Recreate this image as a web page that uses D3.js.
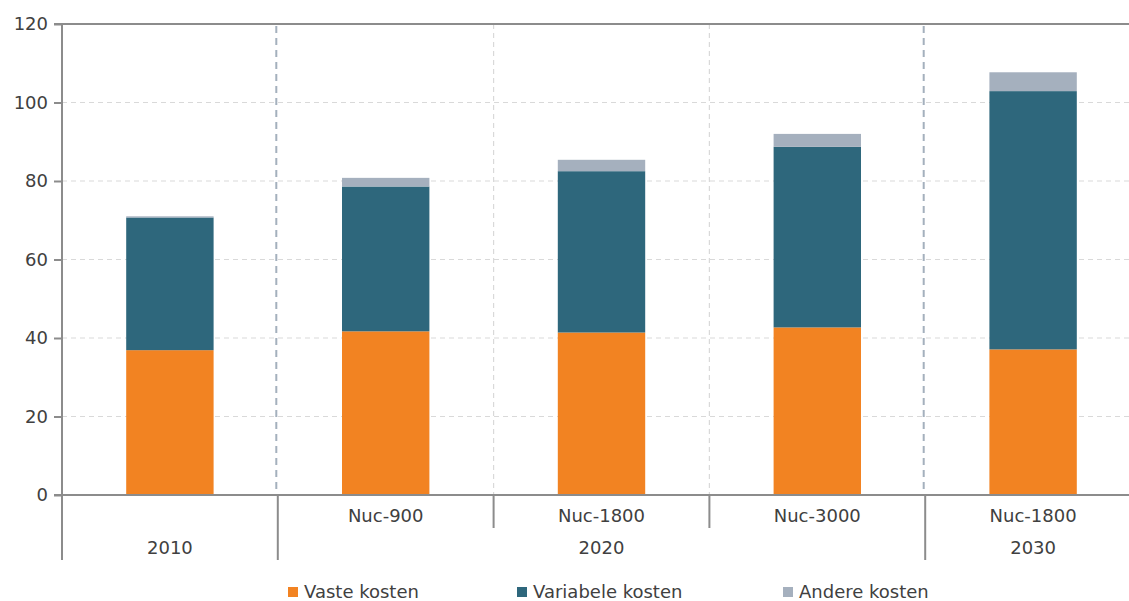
<!DOCTYPE html>
<html><head><meta charset="utf-8">
<script src="https://cdn.jsdelivr.net/npm/d3@7"></script>
<style>
html,body{margin:0;padding:0;background:#fff;}
svg{display:block;font-family:"DejaVu Sans",sans-serif;}
</style></head>
<body>
<svg id="chart" width="1129" height="601"></svg>
<script>
const categories = ["Nuc-2010", "Nuc-900", "Nuc-1800", "Nuc-3000", "Nuc-1800b"];
const subLabels = ["", "Nuc-900", "Nuc-1800", "Nuc-3000", "Nuc-1800"];
const groups = [
  {label: "2010", from: 0, to: 0},
  {label: "2020", from: 1, to: 3},
  {label: "2030", from: 4, to: 4}
];
const seriesNames = ["Vaste kosten", "Variabele kosten", "Andere kosten"];
const vaste = [36.9, 41.7, 41.4, 42.7, 37.1];
const variabele = [33.8, 36.9, 41.1, 46.0, 65.8];
const andere = [0.3, 2.2, 2.9, 3.3, 4.8];
const colors = ["#F28322", "#2E677C", "#A5B0BE"];
const yTicks = [0, 20, 40, 60, 80, 100, 120];

(function () {
const svg = d3.select("#chart");
const pLeft = 62, pRight = 1141, pTop = 24, pBottom = 495;

const x = d3.scaleBand().domain(categories).range([pLeft, pRight]).paddingInner(0).paddingOuter(0);
const y = d3.scaleLinear().domain([0, 120]).range([pBottom, pTop]);
const barW = x.bandwidth() * 0.405;

// horizontal gridlines
svg.append("g").selectAll("line").data(yTicks.filter(t => t > 0 && t < 120)).join("line")
  .attr("x1", pLeft).attr("x2", pRight).attr("y1", d => y(d)).attr("y2", d => y(d))
  .attr("stroke", "#d9d9d9").attr("stroke-width", 1.2).attr("stroke-dasharray", "5,4");

const innerBounds = [];
const sepBounds = [];
groups.forEach((g, gi) => {
  for (let i = g.from + 1; i <= g.to; i++) innerBounds.push(categories[i]);
  if (gi > 0) sepBounds.push(categories[g.from]);
});
svg.append("g").selectAll("line").data(innerBounds).join("line")
  .attr("x1", d => x(d)).attr("x2", d => x(d)).attr("y1", pTop).attr("y2", pBottom)
  .attr("stroke", "#d9d9d9").attr("stroke-width", 1.2).attr("stroke-dasharray", "5,4");

svg.append("g").selectAll("line").data(sepBounds).join("line")
  .attr("x1", d => x(d) - 1.5).attr("x2", d => x(d) - 1.5).attr("y1", pTop + 2).attr("y2", pBottom)
  .attr("stroke", "#a4b0bd").attr("stroke-width", 2).attr("stroke-dasharray", "7,5");

// stacked bars
const rows = categories.map((c, i) => ({cat: c, "Vaste kosten": vaste[i], "Variabele kosten": variabele[i], "Andere kosten": andere[i]}));
const stack = d3.stack().keys(seriesNames)(rows);
svg.append("g").selectAll("g").data(stack).join("g")
  .attr("fill", (d, i) => colors[i])
  .selectAll("rect").data(d => d).join("rect")
  .attr("x", d => x(d.data.cat) + (x.bandwidth() - barW) / 2)
  .attr("width", barW)
  .attr("y", d => y(d[1]))
  .attr("height", d => y(d[0]) - y(d[1]));

// y axis
const yAxis = d3.axisLeft(y).tickValues(yTicks).tickSize(8).tickPadding(6).tickFormat(d3.format("d"));
const ya = svg.append("g").attr("transform", `translate(${pLeft},0)`).call(yAxis);
ya.select(".domain").remove();
ya.selectAll("line").attr("stroke", "#8c8c8c").attr("stroke-width", 2);
ya.selectAll("text").attr("fill", "#404040").attr("font-size", 18).attr("font-family", "DejaVu Sans");
svg.append("line").attr("x1", pLeft).attr("x2", pLeft).attr("y1", pTop - 1).attr("y2", 560)
  .attr("stroke", "#8c8c8c").attr("stroke-width", 2);

svg.append("line").attr("x1", pLeft - 8).attr("x2", 1129).attr("y1", pTop).attr("y2", pTop)
  .attr("stroke", "#8c8c8c").attr("stroke-width", 2);
svg.append("line").attr("x1", pLeft - 8).attr("x2", 1129).attr("y1", pBottom).attr("y2", pBottom)
  .attr("stroke", "#8c8c8c").attr("stroke-width", 2);

svg.append("g").selectAll("line").data(innerBounds).join("line")
  .attr("x1", d => x(d)).attr("x2", d => x(d)).attr("y1", pBottom).attr("y2", 528)
  .attr("stroke", "#8c8c8c").attr("stroke-width", 2);
svg.append("g").selectAll("line").data(sepBounds).join("line")
  .attr("x1", d => x(d)).attr("x2", d => x(d)).attr("y1", pBottom).attr("y2", 560)
  .attr("stroke", "#8c8c8c").attr("stroke-width", 2);

svg.append("g").selectAll("text").data(categories).join("text")
  .attr("x", d => x(d) + x.bandwidth() / 2).attr("y", 522)
  .attr("text-anchor", "middle").attr("font-size", 18).attr("fill", "#404040")
  .text((d, i) => subLabels[i]);

svg.append("g").selectAll("text").data(groups).join("text")
  .attr("x", g => (x(categories[g.from]) + x(categories[g.to]) + x.bandwidth()) / 2).attr("y", 554)
  .attr("text-anchor", "middle").attr("font-size", 18).attr("fill", "#404040")
  .text(g => g.label);

const legendX = [288, 517, 783];
const lg = svg.append("g").selectAll("g").data(seriesNames).join("g")
  .attr("transform", (d, i) => `translate(${legendX[i]},587)`);
lg.append("rect").attr("width", 10).attr("height", 10).attr("fill", (d, i) => colors[i]);
lg.append("text").attr("x", 16).attr("y", 11).attr("font-size", 18).attr("fill", "#404040").text(d => d);
})();
</script>
</body></html>
